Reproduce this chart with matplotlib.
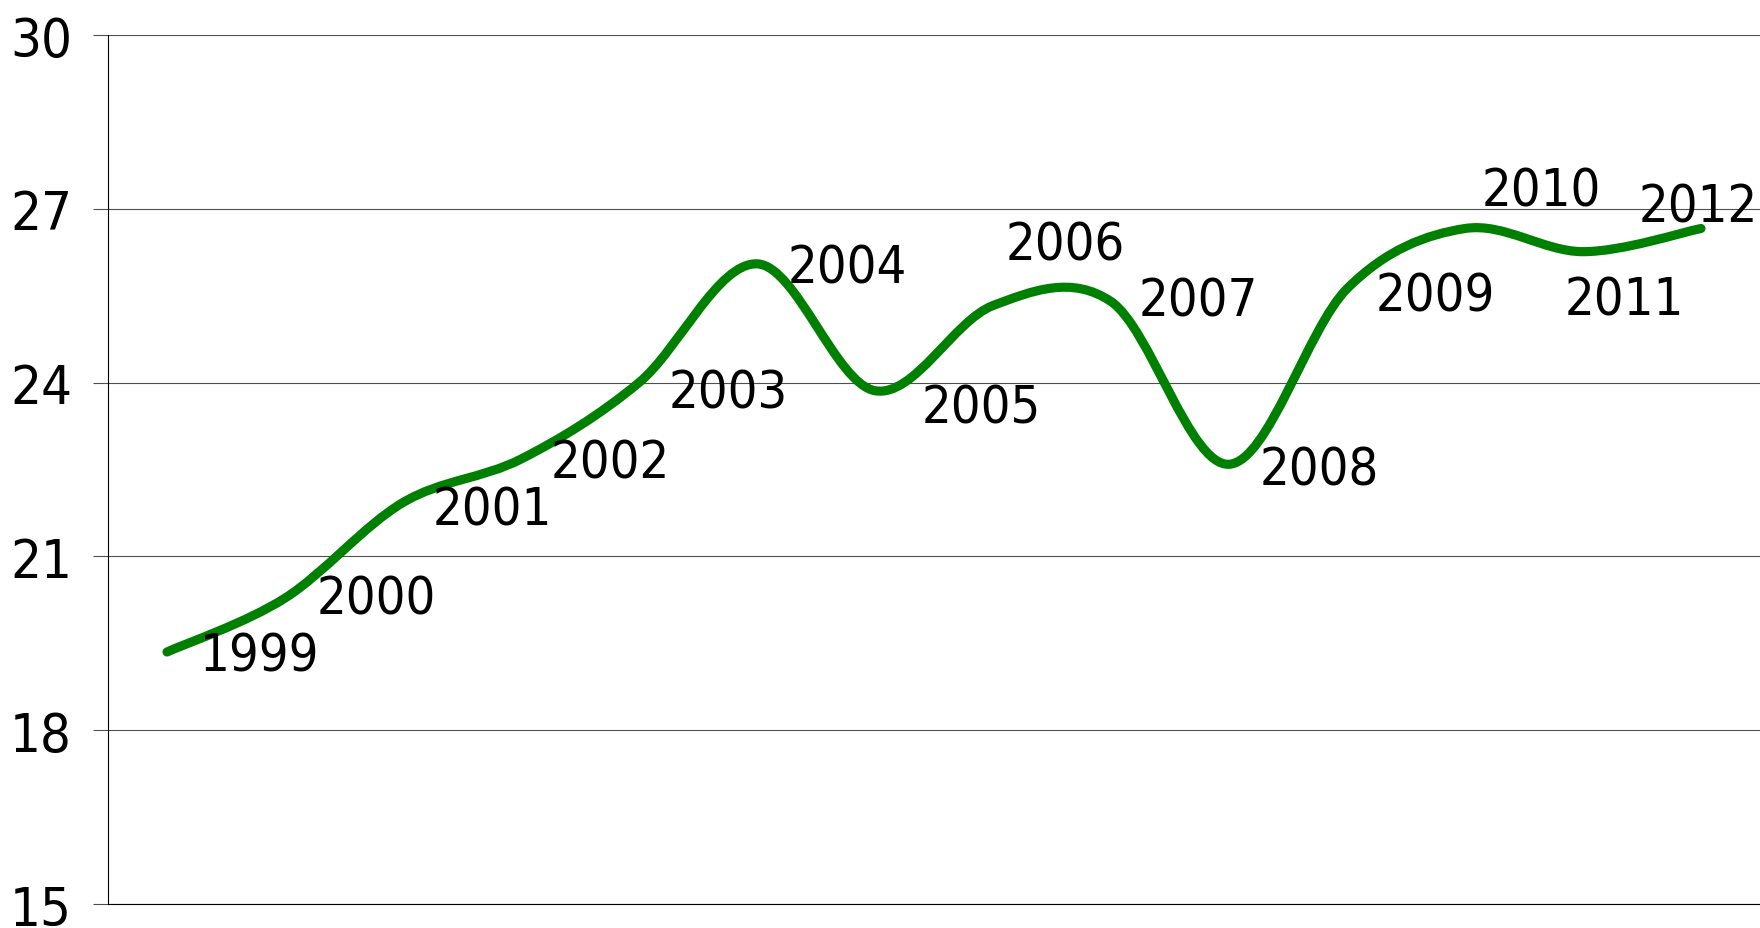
"""Smoothed yearly series 1999-2012 with year labels beside each point."""

import matplotlib

matplotlib.use("Agg")
import matplotlib.pyplot as plt
import numpy as np
from matplotlib.patches import PathPatch
from matplotlib.path import Path

# --------------------------------------------------------------------- DATA

YEARS = ["1999", "2000", "2001", "2002", "2003", "2004", "2005",
         "2006", "2007", "2008", "2009", "2010", "2011", "2012"]
VALUES = [19.35, 20.28, 21.93, 22.68, 24.0, 26.05, 23.86,
          25.33, 25.4, 22.59, 25.62, 26.66, 26.26, 26.66]
Y_TICKS = [15, 18, 21, 24, 27, 30]

# label placement: (left edge, vertical centre) offset from the point, in pixels
# (positive dy = further down the picture)
LABEL_OFFSETS = [
    (33, 0), (32, -4), (30, 3), (30, -1), (30, 6), (31, 0), (47, 13),
    (13, -65), (28, -5), (31, 1), (29, 3), (17, -42), (-18, 44), (-62, -26),
]

GREEN = "#008000"
TICK_FONT = dict(family="DejaVu Sans", stretch="condensed", size=39)
LABEL_FONT = dict(family="DejaVu Sans", stretch="condensed", size=37.5)
# half the digit height in pixels, to centre the labels on their offsets
HALF_DIGIT = 0.729 * LABEL_FONT["size"] / 72 * 100 / 2

# ------------------------------------------------------------------------


def smooth_path(x, y):
    """Catmull-Rom curve through the points, as cubic Bezier segments."""
    pts = np.column_stack([x, y])
    padded = np.vstack([pts[0], pts, pts[-1]])
    verts = [pts[0]]
    codes = [Path.MOVETO]
    for i in range(len(pts) - 1):
        p0, p1, p2, p3 = padded[i], padded[i + 1], padded[i + 2], padded[i + 3]
        verts += [p1 + (p2 - p0) / 6, p2 - (p3 - p1) / 6, p2]
        codes += [Path.CURVE4] * 3
    return Path(verts, codes)


fig = plt.figure(figsize=(17.6, 9.29), dpi=100)
ax = fig.add_axes([108 / 1760, 1 - 905 / 929, 1 - 108 / 1760, (905 - 36) / 929])

x = np.arange(len(YEARS))
patch = PathPatch(smooth_path(x, VALUES), facecolor="none", edgecolor=GREEN,
                  lw=6.6, capstyle="round", joinstyle="round", zorder=3)
ax.add_patch(patch)

for xi, val, year, (dx, dy) in zip(x, VALUES, YEARS, LABEL_OFFSETS):
    ax.annotate(year, (xi, val), xytext=(dx, -(dy + HALF_DIGIT)),
                textcoords="offset pixels", ha="left", va="baseline",
                zorder=4, **LABEL_FONT)

ax.set_xlim(-0.5, len(YEARS) - 0.5)
ax.set_ylim(15, 30)
ax.set_xticks([])
ax.set_yticks(Y_TICKS)
ax.set_yticklabels([str(t) for t in Y_TICKS], **TICK_FONT)
ax.grid(axis="y", color="#505050", lw=0.8)
ax.set_axisbelow(True)
ax.tick_params(axis="y", length=11, width=0.8, color="#505050", pad=15)

for side in ("top", "right"):
    ax.spines[side].set_visible(False)
ax.spines["left"].set_color("black")
ax.spines["left"].set_linewidth(0.8)
ax.spines["bottom"].set_color("black")
ax.spines["bottom"].set_linewidth(0.8)

fig.savefig("out.png", dpi=100)
